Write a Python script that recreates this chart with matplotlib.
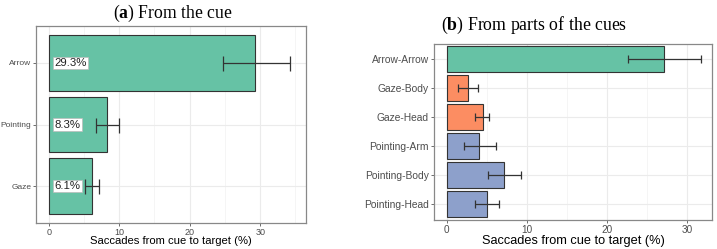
import matplotlib
matplotlib.use("Agg")
import matplotlib.pyplot as plt
from matplotlib.ticker import MultipleLocator

plt.rcParams['mathtext.fontset'] = 'custom'
plt.rcParams['mathtext.rm'] = 'Liberation Serif'
plt.rcParams['mathtext.bf'] = 'Liberation Serif:bold'
plt.rcParams['font.family'] = ['Liberation Sans', 'DejaVu Sans']

# Panel (a)
cats_a = ["Arrow", "Pointing", "Gaze"]
vals_a = [29.3, 8.3, 6.1]
lo_a = [24.7, 6.7, 5.2]
hi_a = [34.3, 10.0, 7.1]
labels_a = ["29.3%", "8.3%", "6.1%"]

# Panel (b)
cats_b = ["Arrow-Arrow", "Gaze-Body", "Gaze-Head", "Pointing-Arm", "Pointing-Body", "Pointing-Head"]
vals_b = [27.1, 2.7, 4.5, 4.1, 7.2, 5.0]
lo_b = [22.6, 1.4, 3.6, 2.2, 5.2, 3.6]
hi_b = [31.7, 3.9, 5.3, 6.1, 9.3, 6.5]
groups_b = ["Arrow", "Gaze", "Gaze", "Pointing", "Pointing", "Pointing"]
group_colors = {"Arrow": "#66C2A5", "Gaze": "#FC8D62", "Pointing": "#8DA0CB"}

xlabel = "Saccades from cue to target (%)"

fig = plt.figure(figsize=(7.17, 2.49), dpi=100)
ax1 = fig.add_axes([36/717, 1-223/249, 270/717, 197/249])
ax2 = fig.add_axes([433.7/717, 1-220/249, 278.6/717, 175.7/249])

def style(ax, tick_fs, xtick_fs, lab_fs, lab_y):
    ax.set_axisbelow(True)
    ax.xaxis.set_major_locator(MultipleLocator(10))
    ax.xaxis.set_minor_locator(MultipleLocator(5))
    ax.grid(which='major', color='#EBEBEB', lw=0.8)
    ax.grid(which='minor', axis='x', color='#F2F2F2', lw=0.5)
    for s in ax.spines.values():
        s.set_color('#888888')
        s.set_linewidth(0.9)
    ax.tick_params(which='major', length=2.5, width=0.6, color='#555555',
                   labelcolor='#4D4D4D')
    ax.tick_params(axis='y', labelsize=tick_fs, pad=0.8)
    ax.tick_params(axis='x', labelsize=xtick_fs, pad=0.8)
    ax.tick_params(which='minor', length=0)
    ax.set_xlabel(xlabel, fontsize=lab_fs, color='black', va='center')
    ax.xaxis.set_label_coords(0.5, lab_y)

# Panel a
ax1.barh(cats_a, vals_a, height=0.9, color="#66C2A5", edgecolor='#333333', lw=0.8)
err_lo = [v - l for v, l in zip(vals_a, lo_a)]
err_hi = [h - v for v, h in zip(vals_a, hi_a)]
ax1.errorbar(vals_a, cats_a, xerr=[err_lo, err_hi], fmt='none', ecolor='#333333',
             elinewidth=0.9, capsize=5.4, capthick=0.9)
for c, t in zip(cats_a, labels_a):
    ax1.text(0.8, c, t, ha='left', va='center', fontsize=8.2, color='#222222',
             bbox=dict(boxstyle='square,pad=0.12', fc='white', ec='#BBBBBB', lw=0.5))
ax1.set_xlim(-1.8, 36.5)
ax1.set_ylim(2.6, -0.6)
style(ax1, 6.0, 6.5, 8.1, -0.093)

# Panel b
cols_b = [group_colors[g] for g in groups_b]
ax2.barh(cats_b, vals_b, height=0.9, color=cols_b, edgecolor='#333333', lw=0.8)
err_lo = [v - l for v, l in zip(vals_b, lo_b)]
err_hi = [h - v for v, h in zip(vals_b, hi_b)]
ax2.errorbar(vals_b, cats_b, xerr=[err_lo, err_hi], fmt='none', ecolor='#333333',
             elinewidth=0.9, capsize=2.9, capthick=0.9)
ax2.set_xlim(-1.6, 33.1)
ax2.set_ylim(5.55, -0.5)
style(ax2, 7.4, 7.2, 9.2, -0.12)

fig.text(173/717, 1-13/249, r"($\mathbf{a}$) From the cue", ha='center', va='center',
         fontsize=12.7, family='Liberation Serif')
fig.text(534/717, 1-25/249, r"($\mathbf{b}$) From parts of the cues", ha='center', va='center',
         fontsize=12.8, family='Liberation Serif')

fig.savefig("out.png", dpi=100)
